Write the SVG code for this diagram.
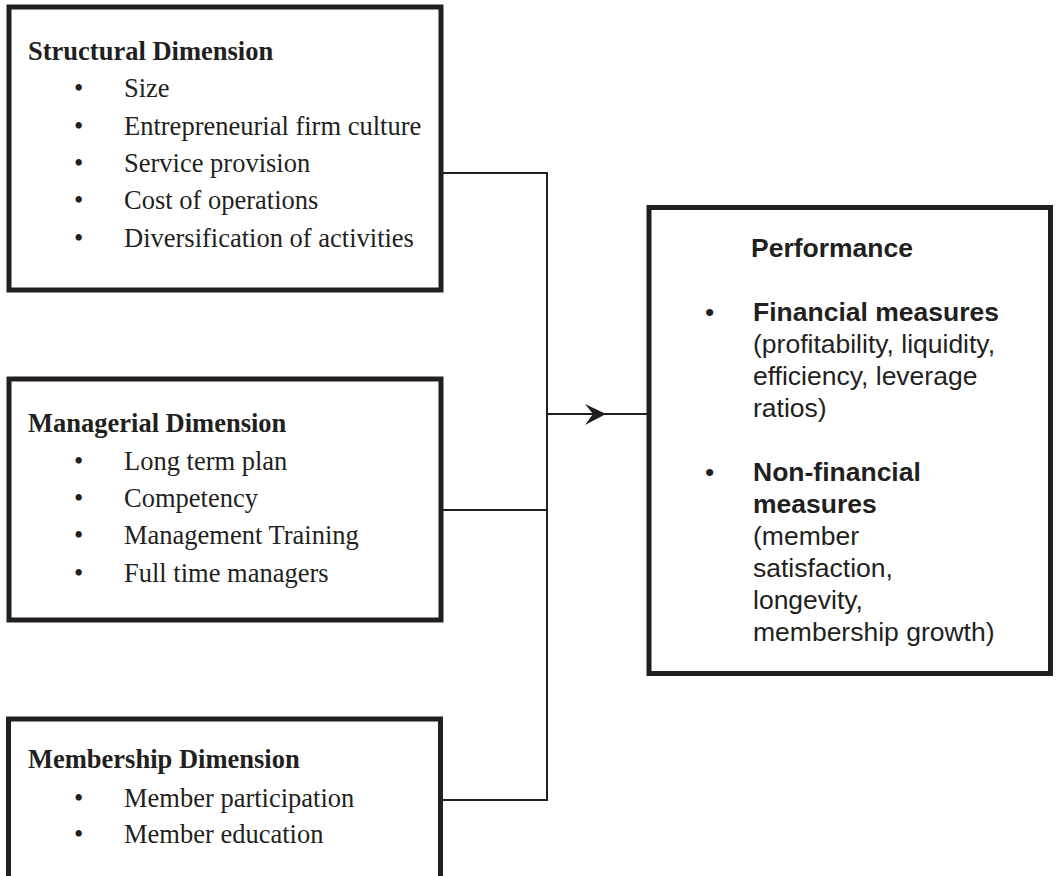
<svg xmlns="http://www.w3.org/2000/svg" width="1058" height="876" viewBox="0 0 1058 876">
  <style>
    .box { fill: #ffffff; stroke: #231f20; stroke-width: 5; }
    .wire { fill: none; stroke: #231f20; stroke-width: 2; }
    .serif { font-family: "Liberation Serif", "Times New Roman", serif; font-size: 26.5px; fill: #231f20; }
    .sans { font-family: "Liberation Sans", Arial, sans-serif; font-size: 26.5px; fill: #231f20; }
    .b { font-weight: bold; }
  </style>
  <rect width="1058" height="876" fill="#ffffff"/>

  <!-- connectors -->
  <g id="connectors">
    <path class="wire" d="M441 173 H547 V800 H441"/>
    <path class="wire" d="M441 510 H547"/>
    <path class="wire" d="M547 414 H649"/>
    <path d="M606 414 L585 404 L593 414 L585 425 Z" fill="#231f20"/>
  </g>

  <!-- structural dimension -->
  <g id="structural">
    <rect class="box" x="9" y="7" width="432" height="283"/>
    <text class="serif b" x="28" y="60">Structural Dimension</text>
    <g class="serif">
      <text x="74" y="97">•</text><text x="124" y="97">Size</text>
      <text x="74" y="135">•</text><text x="124" y="135">Entrepreneurial firm culture</text>
      <text x="74" y="172">•</text><text x="124" y="172">Service provision</text>
      <text x="74" y="209">•</text><text x="124" y="209">Cost of operations</text>
      <text x="74" y="247">•</text><text x="124" y="247">Diversification of activities</text>
    </g>
  </g>

  <!-- managerial dimension -->
  <g id="managerial">
    <rect class="box" x="9" y="379" width="432" height="241"/>
    <text class="serif b" x="28" y="432">Managerial Dimension</text>
    <g class="serif">
      <text x="74" y="470">•</text><text x="124" y="470">Long term plan</text>
      <text x="74" y="507">•</text><text x="124" y="507">Competency</text>
      <text x="74" y="544">•</text><text x="124" y="544">Management Training</text>
      <text x="74" y="582">•</text><text x="124" y="582">Full time managers</text>
    </g>
  </g>

  <!-- membership dimension -->
  <g id="membership">
    <rect class="box" x="8.5" y="719" width="432" height="200"/>
    <text class="serif b" x="28" y="768">Membership Dimension</text>
    <g class="serif">
      <text x="74" y="807">•</text><text x="124" y="807">Member participation</text>
      <text x="74" y="843">•</text><text x="124" y="843">Member education</text>
    </g>
  </g>

  <!-- performance -->
  <g id="performance">
    <rect class="box" x="649" y="207.5" width="401.5" height="466"/>
    <text class="sans b" x="751" y="257">Performance</text>
    <text class="sans" x="705" y="321">•</text>
    <text class="sans b" x="753" y="321">Financial measures</text>
    <text class="sans" x="753" y="353">(profitability, liquidity,</text>
    <text class="sans" x="753" y="385">efficiency, leverage</text>
    <text class="sans" x="753" y="417">ratios)</text>
    <text class="sans" x="705" y="481">•</text>
    <text class="sans b" x="753" y="481">Non-financial</text>
    <text class="sans b" x="753" y="513">measures</text>
    <text class="sans" x="753" y="545">(member</text>
    <text class="sans" x="753" y="577">satisfaction,</text>
    <text class="sans" x="753" y="609">longevity,</text>
    <text class="sans" x="753" y="641">membership growth)</text>
  </g>
</svg>
